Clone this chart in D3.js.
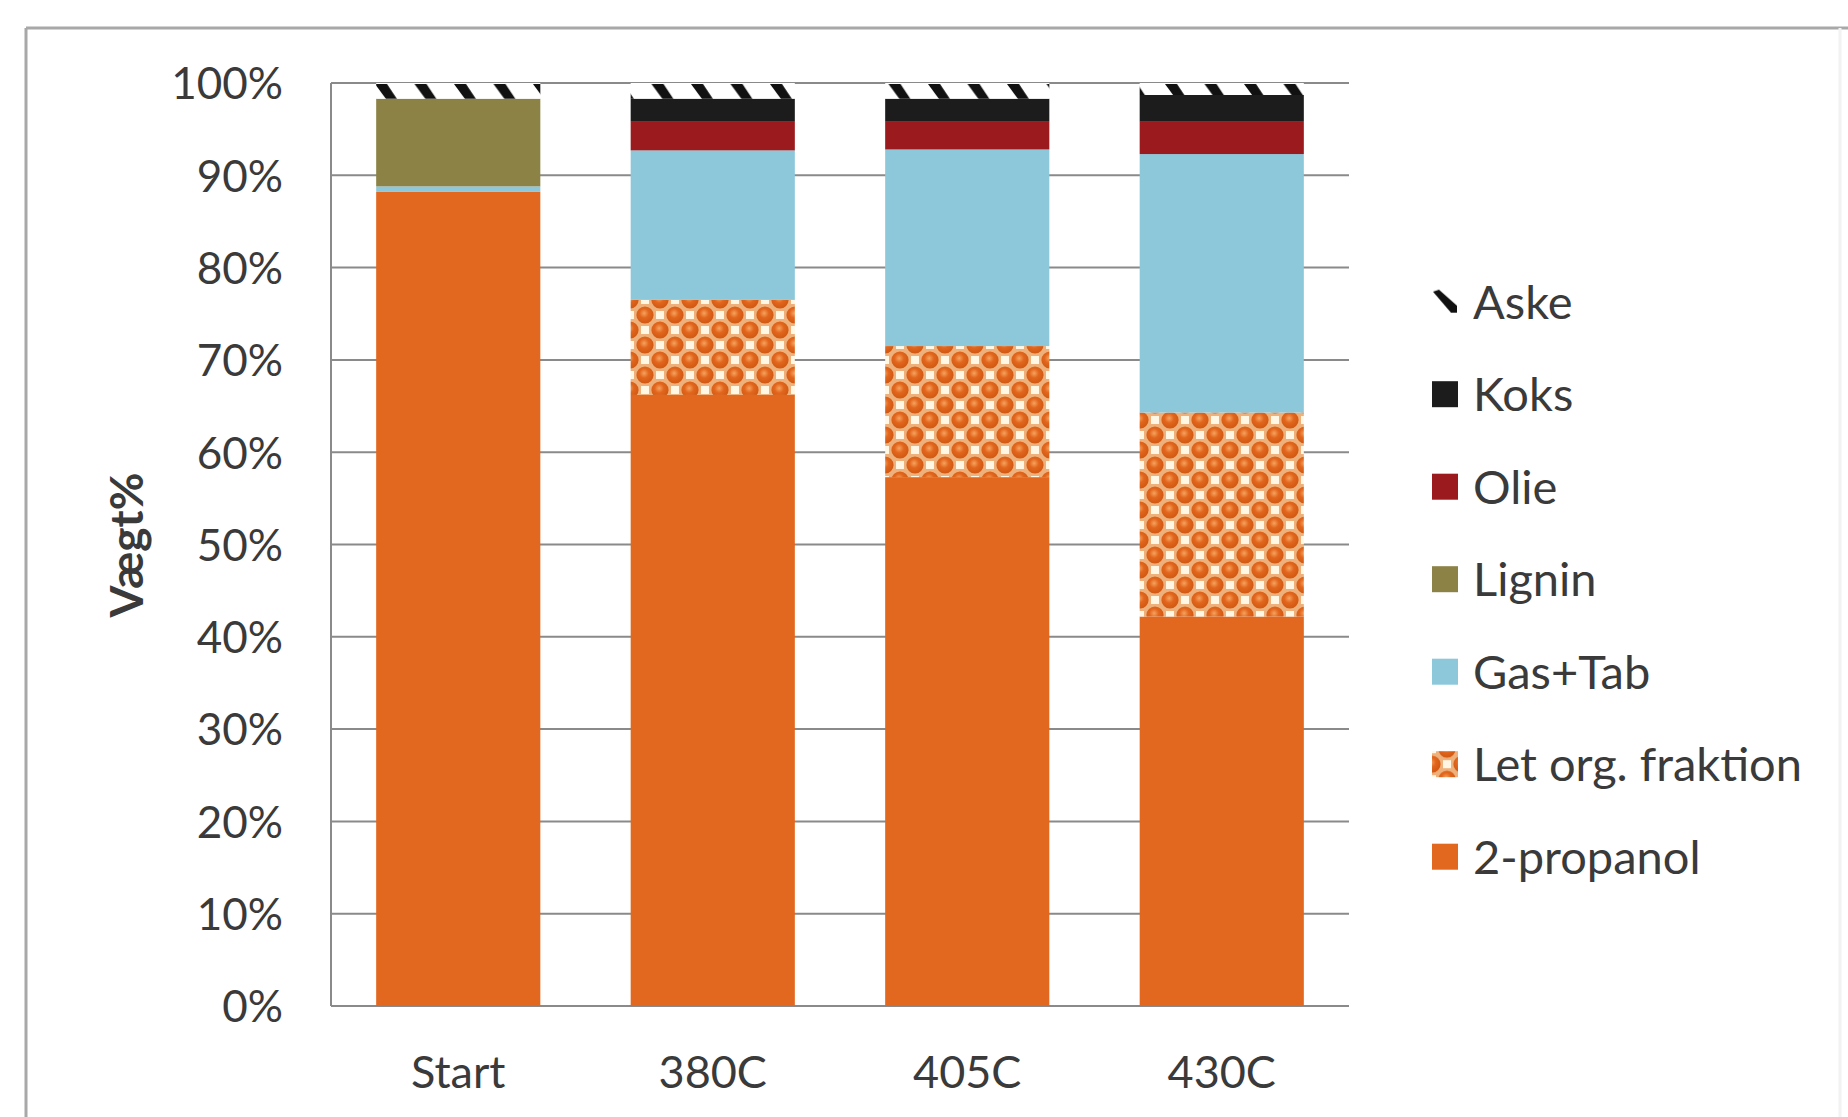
<!DOCTYPE html>
<html><head><meta charset="utf-8">
<script src="https://cdn.jsdelivr.net/npm/d3@7"></script>
<style>
html,body{margin:0;padding:0;background:#fff;}
svg{display:block;}
text{font-family:Lato, "Open Sans", sans-serif;fill:#3a3a3a;}
</style></head>
<body>
<svg id="chart" width="1848" height="1117"></svg>
<script>
const categories = ["Start", "380C", "405C", "430C"];
const seriesNames = ["2-propanol", "Let org. fraktion", "Gas+Tab", "Lignin", "Olie", "Koks", "Aske"];
const propanol = [88.2, 66.2, 57.3, 42.2];
const letOrg   = [0, 10.3, 14.2, 22.1];
const gasTab   = [0.6, 16.2, 21.3, 28.0];
const lignin   = [9.5, 0, 0, 0];
const olie     = [0, 3.1, 3.0, 3.5];
const koks     = [0, 2.5, 2.5, 2.9];
const aske     = [1.7, 1.7, 1.7, 1.3];
const yTicks = [0, 10, 20, 30, 40, 50, 60, 70, 80, 90, 100];
const yTitle = "Vægt%";

const seriesValues = [propanol, letOrg, gasTab, lignin, olie, koks, aske];
const rows = categories.map((c, i) => {
  const r = {cat: c};
  seriesNames.forEach((s, j) => r[s] = seriesValues[j][i]);
  return r;
});

const svg = d3.select("#chart");
const defs = svg.append("defs");

// Aske pattern: white with black slanted marks
const ap = defs.append("pattern").attr("id", "askePat").attr("patternUnits", "userSpaceOnUse")
  .attr("x", 377).attr("y", 84).attr("width", 39.5).attr("height", 40);
ap.append("rect").attr("width", 39.5).attr("height", 40).attr("fill", "#fff");
ap.append("polygon").attr("points", "-2,0 10,0 20,15 9,15").attr("fill", "#111");
ap.append("polygon").attr("points", "37.5,0 49.5,0 59.5,15 48.5,15").attr("fill", "#111");

// Aske legend symbol pattern (single slash)
const al = defs.append("pattern").attr("id", "askeLeg").attr("patternUnits", "objectBoundingBox")
  .attr("patternContentUnits", "userSpaceOnUse").attr("width", 1).attr("height", 1);
al.append("rect").attr("width", 26).attr("height", 26).attr("fill", "#fff");
al.append("polygon").attr("points", "1,3 7,1 25,17 25,24 19,24").attr("fill", "#111");

// Let org pattern: orange spheres with cream gaps
const grad = defs.append("radialGradient").attr("id", "sphere").attr("cx", "45%").attr("cy", "40%").attr("r", "60%");
grad.append("stop").attr("offset", "0%").attr("stop-color", "#f5a35e");
grad.append("stop").attr("offset", "45%").attr("stop-color", "#e2661d");
grad.append("stop").attr("offset", "100%").attr("stop-color", "#d05812");
const lp = defs.append("pattern").attr("id", "letPat").attr("patternUnits", "userSpaceOnUse")
  .attr("x", 0).attr("y", 0).attr("width", 30).attr("height", 30);
lp.append("rect").attr("width", 30).attr("height", 30).attr("fill", "#eeb17c");
[[15,0],[0,15],[30,15],[15,30]].forEach(([cx, cy]) =>
  lp.append("rect").attr("x", cx - 4).attr("y", cy - 4).attr("width", 8).attr("height", 8).attr("fill", "#fff6e4"));
[[0,0],[30,0],[0,30],[30,30],[15,15]].forEach(([cx, cy]) =>
  lp.append("circle").attr("cx", cx).attr("cy", cy).attr("r", 8.6).attr("fill", "url(#sphere)"));

const fills = {
  "2-propanol": "#e2671f",
  "Let org. fraktion": "url(#letPat)",
  "Gas+Tab": "#8cc8da",
  "Lignin": "#8c8245",
  "Olie": "#9a1a1d",
  "Koks": "#1c1c1c",
  "Aske": "url(#askePat)"
};
const legendFills = Object.assign({}, fills, {"Aske": "url(#askeLeg)"});

// outer frame
svg.append("line").attr("x1", 26).attr("y1", 28).attr("x2", 1848).attr("y2", 28).attr("stroke", "#a8a8a8").attr("stroke-width", 3);
svg.append("line").attr("x1", 26).attr("y1", 28).attr("x2", 26).attr("y2", 1117).attr("stroke", "#a8a8a8").attr("stroke-width", 3);
svg.append("line").attr("x1", 1840).attr("y1", 28).attr("x2", 1840).attr("y2", 1117).attr("stroke", "#f2f2f2").attr("stroke-width", 3);

const x = d3.scaleBand().domain(categories).range([331, 1349]).paddingInner(0.355).paddingOuter(0.1775);
const y = d3.scaleLinear().domain([0, 100]).range([1006, 83]);

// gridlines
svg.append("g").selectAll("line").data(yTicks).join("line")
  .attr("x1", 331).attr("x2", 1349)
  .attr("y1", d => y(d)).attr("y2", d => y(d))
  .attr("stroke", "#8a8a8a").attr("stroke-width", 2);
svg.append("line").attr("x1", 331).attr("x2", 331).attr("y1", y(100)).attr("y2", y(0))
  .attr("stroke", "#8a8a8a").attr("stroke-width", 2);

// y tick labels
const yAxis = d3.axisLeft(y).tickValues(yTicks).tickFormat(d => d + "%").tickSize(0).tickPadding(0);
const gy = svg.append("g").attr("transform", "translate(283,0)").call(yAxis);
gy.select(".domain").remove();
gy.selectAll("text").style("font-size", "44px").style("font-family", "Lato").attr("fill", "#3a3a3a").attr("dy", "0.36em");

// bars
const stack = d3.stack().keys(seriesNames);
const stacked = stack(rows);
svg.append("g").selectAll("g").data(stacked).join("g")
  .attr("fill", d => fills[d.key])
  .selectAll("rect").data(d => d).join("rect")
  .attr("x", d => x(d.data.cat))
  .attr("width", x.bandwidth())
  .attr("y", d => y(d[1]))
  .attr("height", d => Math.max(0, y(d[0]) - y(d[1])));

// x labels
const xAxis = d3.axisBottom(x).tickSize(0).tickPadding(0);
const gx = svg.append("g").attr("transform", "translate(0,1072)").call(xAxis);
gx.select(".domain").remove();
gx.selectAll("text").style("font-size", "45px").style("font-family", "Lato").attr("fill", "#3a3a3a").attr("dy", "0.36em");

// y title
svg.append("text").attr("transform", "translate(126,545) rotate(-90)")
  .attr("text-anchor", "middle").attr("dy", "0.36em")
  .style("font-size", "46px").style("font-weight", "bold").text(yTitle);

// legend
const legendOrder = seriesNames.slice().reverse();
const lg = svg.append("g").selectAll("g").data(legendOrder).join("g")
  .attr("transform", (d, i) => `translate(1432,${301.7 + i * 92.5})`);
lg.append("rect").attr("x", 0).attr("y", -13).attr("width", 26).attr("height", 26)
  .attr("fill", d => legendFills[d]);
lg.append("text").attr("x", 41).attr("dy", "0.36em").style("font-size", "47px").text(d => d);
</script>
</body></html>
